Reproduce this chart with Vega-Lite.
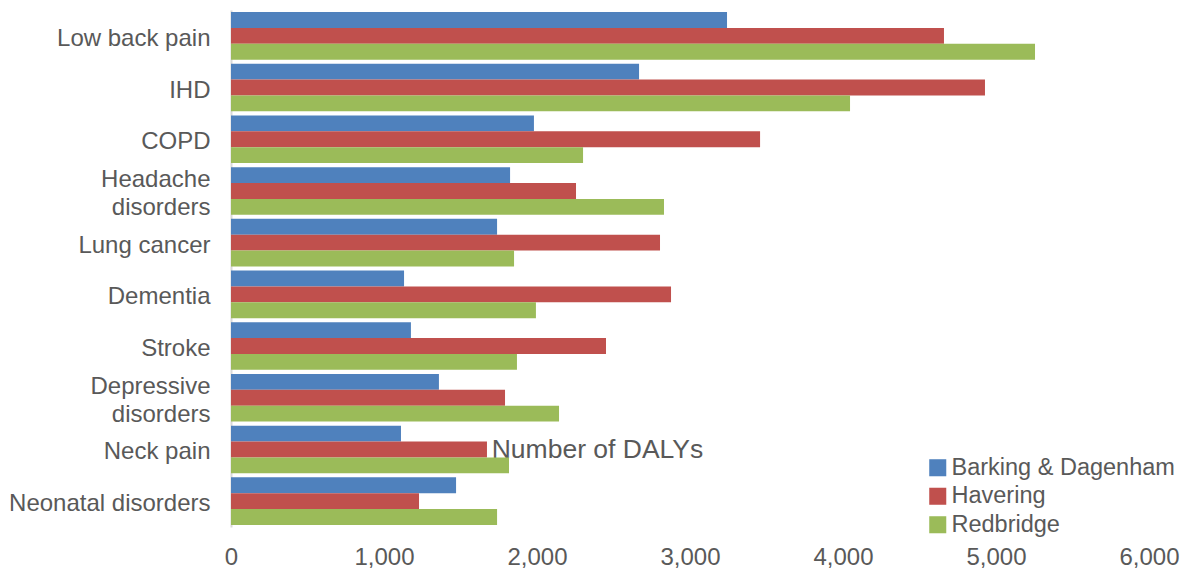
{
  "$schema": "https://vega.github.io/schema/vega-lite/v6.json",
  "autosize": "none",
  "width": 918,
  "height": 517,
  "padding": {"left": 231, "top": 10, "right": 43, "bottom": 49},
  "background": "white",
  "config": {"view": {"stroke": null}, "font": "Liberation Sans"},
  "data": {"values": [
    {"cause": "Low back pain", "borough": "Barking & Dagenham", "dalys": 3242},
    {"cause": "Low back pain", "borough": "Havering", "dalys": 4660},
    {"cause": "Low back pain", "borough": "Redbridge", "dalys": 5255},
    {"cause": "IHD", "borough": "Barking & Dagenham", "dalys": 2667},
    {"cause": "IHD", "borough": "Havering", "dalys": 4928},
    {"cause": "IHD", "borough": "Redbridge", "dalys": 4046},
    {"cause": "COPD", "borough": "Barking & Dagenham", "dalys": 1980},
    {"cause": "COPD", "borough": "Havering", "dalys": 3458},
    {"cause": "COPD", "borough": "Redbridge", "dalys": 2301},
    {"cause": "Headache disorders", "borough": "Barking & Dagenham", "dalys": 1824},
    {"cause": "Headache disorders", "borough": "Havering", "dalys": 2255},
    {"cause": "Headache disorders", "borough": "Redbridge", "dalys": 2830},
    {"cause": "Lung cancer", "borough": "Barking & Dagenham", "dalys": 1739},
    {"cause": "Lung cancer", "borough": "Havering", "dalys": 2804},
    {"cause": "Lung cancer", "borough": "Redbridge", "dalys": 1850},
    {"cause": "Dementia", "borough": "Barking & Dagenham", "dalys": 1131},
    {"cause": "Dementia", "borough": "Havering", "dalys": 2876},
    {"cause": "Dementia", "borough": "Redbridge", "dalys": 1993},
    {"cause": "Stroke", "borough": "Barking & Dagenham", "dalys": 1176},
    {"cause": "Stroke", "borough": "Havering", "dalys": 2451},
    {"cause": "Stroke", "borough": "Redbridge", "dalys": 1869},
    {"cause": "Depressive disorders", "borough": "Barking & Dagenham", "dalys": 1359},
    {"cause": "Depressive disorders", "borough": "Havering", "dalys": 1791},
    {"cause": "Depressive disorders", "borough": "Redbridge", "dalys": 2144},
    {"cause": "Neck pain", "borough": "Barking & Dagenham", "dalys": 1111},
    {"cause": "Neck pain", "borough": "Havering", "dalys": 1673},
    {"cause": "Neck pain", "borough": "Redbridge", "dalys": 1817},
    {"cause": "Neonatal disorders", "borough": "Barking & Dagenham", "dalys": 1471},
    {"cause": "Neonatal disorders", "borough": "Havering", "dalys": 1229},
    {"cause": "Neonatal disorders", "borough": "Redbridge", "dalys": 1739}
  ]},
  "mark": {"type": "bar"},
  "encoding": {
    "y": {
      "field": "cause", "type": "nominal", "sort": null,
      "scale": {"paddingInner": 0.08, "paddingOuter": 0.04},
      "axis": {
        "title": null, "ticks": false, "labelFontSize": 24, "labelColor": "#595959",
        "labelPadding": 21, "labelLineHeight": 28, "labelLimit": 300,
        "domainColor": "#d9d9d9", "domainWidth": 2,
        "labelOffset": {"condition": {"test": "datum.value == 'Headache disorders' || datum.value == 'Depressive disorders'", "value": -11}, "value": 3},
        "labelExpr": "datum.label == 'Headache disorders' ? ['Headache', 'disorders'] : datum.label == 'Depressive disorders' ? ['Depressive', 'disorders'] : datum.label"
      }
    },
    "yOffset": {"field": "borough", "type": "nominal", "sort": ["Barking & Dagenham", "Havering", "Redbridge"]},
    "x": {
      "field": "dalys", "type": "quantitative",
      "scale": {"domain": [0, 6000], "nice": false},
      "axis": {
        "title": "Number of DALYs", "titleFontSize": 26.5, "titleFontWeight": "normal", "titleColor": "#595959",
        "titleX": 366, "titleY": -70, "titleAnchor": "middle", "titleBaseline": "alphabetic",
        "values": [0, 1000, 2000, 3000, 4000, 5000, 6000],
        "labelExpr": "format(datum.value, ',')", "labelOverlap": false,
        "labelFontSize": 24, "labelColor": "#595959", "labelPadding": 18,
        "ticks": false, "domain": false, "grid": false, "labelFlush": false
      }
    },
    "color": {
      "field": "borough", "type": "nominal",
      "scale": {"domain": ["Barking & Dagenham", "Havering", "Redbridge"], "range": ["#4F81BD", "#C0504D", "#9BBB59"]},
      "legend": {
        "title": null, "orient": "none", "legendX": 695, "legendY": 446,
        "symbolType": "square", "symbolSize": 290, "symbolStrokeWidth": 0,
        "labelFontSize": 23.5, "labelColor": "#595959", "rowPadding": 3.5, "labelOffset": 2,
        "labelLimit": 400
      }
    }
  }
}
